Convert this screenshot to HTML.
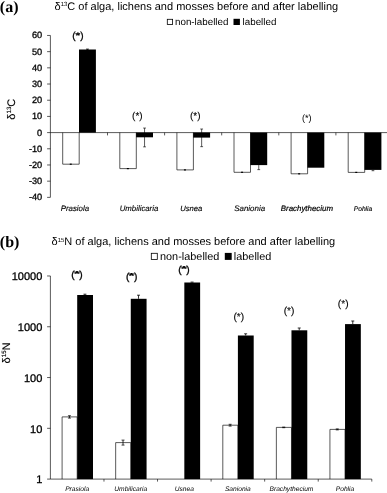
<!DOCTYPE html><html><head><meta charset="utf-8"><title>Figure</title><style>html,body{margin:0;padding:0;background:#fff}svg{display:block}text{text-rendering:geometricPrecision;font-family:"Liberation Sans",Arial,sans-serif;fill:#000}.b{stroke:#000;stroke-width:.3px}.c{stroke:#000;stroke-width:.12px}.d{stroke:#000;stroke-width:.2px}</style></head><body>
<svg width="387" height="493" viewBox="0 0 387 493">
<rect width="387" height="493" fill="#fff"/>
<text x="-0.2" y="11.7" style="font-family:'Liberation Serif',serif;font-weight:bold;font-size:16px">(a)</text>
<text x="54.5" y="9.7" font-size="11px">δ<tspan font-size="6px" dy="-3.4">13</tspan><tspan dy="3.4">C of alga, lichens and mosses before and after labelling</tspan></text>
<rect x="167.3" y="19.3" width="5.3" height="5.3" fill="#fff" stroke="#000" stroke-width="0.8"/>
<text x="175" y="24.8" font-size="9.8px">non-labelled</text>
<rect x="233.5" y="18.8" width="6.4" height="6.2" fill="#000"/>
<text x="242.6" y="24.8" font-size="9.8px">labelled</text>
<line x1="50.4" y1="35.459999999999994" x2="50.4" y2="197.36" stroke="#000" stroke-width="0.65"/>
<line x1="47.1" y1="197.36" x2="50.4" y2="197.36" stroke="#000" stroke-width="0.65"/>
<text x="42.2" y="200.26" font-size="9.2px" text-anchor="end" class="b">-40</text>
<line x1="47.1" y1="181.17" x2="50.4" y2="181.17" stroke="#000" stroke-width="0.65"/>
<text x="42.2" y="184.07" font-size="9.2px" text-anchor="end" class="b">-30</text>
<line x1="47.1" y1="164.98" x2="50.4" y2="164.98" stroke="#000" stroke-width="0.65"/>
<text x="42.2" y="167.88" font-size="9.2px" text-anchor="end" class="b">-20</text>
<line x1="47.1" y1="148.79" x2="50.4" y2="148.79" stroke="#000" stroke-width="0.65"/>
<text x="42.2" y="151.69" font-size="9.2px" text-anchor="end" class="b">-10</text>
<line x1="47.1" y1="132.60" x2="50.4" y2="132.60" stroke="#000" stroke-width="0.65"/>
<text x="42.2" y="135.50" font-size="9.2px" text-anchor="end" class="b">0</text>
<line x1="47.1" y1="116.41" x2="50.4" y2="116.41" stroke="#000" stroke-width="0.65"/>
<text x="42.2" y="119.31" font-size="9.2px" text-anchor="end" class="b">10</text>
<line x1="47.1" y1="100.22" x2="50.4" y2="100.22" stroke="#000" stroke-width="0.65"/>
<text x="42.2" y="103.12" font-size="9.2px" text-anchor="end" class="b">20</text>
<line x1="47.1" y1="84.03" x2="50.4" y2="84.03" stroke="#000" stroke-width="0.65"/>
<text x="42.2" y="86.93" font-size="9.2px" text-anchor="end" class="b">30</text>
<line x1="47.1" y1="67.84" x2="50.4" y2="67.84" stroke="#000" stroke-width="0.65"/>
<text x="42.2" y="70.74" font-size="9.2px" text-anchor="end" class="b">40</text>
<line x1="47.1" y1="51.65" x2="50.4" y2="51.65" stroke="#000" stroke-width="0.65"/>
<text x="42.2" y="54.55" font-size="9.2px" text-anchor="end" class="b">50</text>
<line x1="47.1" y1="35.46" x2="50.4" y2="35.46" stroke="#000" stroke-width="0.65"/>
<text x="42.2" y="38.36" font-size="9.2px" text-anchor="end" class="b">60</text>
<text transform="translate(14.8,109.2) rotate(-90)" font-size="11px" text-anchor="middle" class="c">δ<tspan font-size="6.2px" dy="-3.4">13</tspan><tspan dy="3.4">C</tspan></text>
<line x1="50.4" y1="132.6" x2="387" y2="132.6" stroke="#000" stroke-width="0.65"/>
<line x1="107.50" y1="132.6" x2="107.50" y2="135.4" stroke="#000" stroke-width="0.65"/>
<line x1="164.60" y1="132.6" x2="164.60" y2="135.4" stroke="#000" stroke-width="0.65"/>
<line x1="221.70" y1="132.6" x2="221.70" y2="135.4" stroke="#000" stroke-width="0.65"/>
<line x1="278.80" y1="132.6" x2="278.80" y2="135.4" stroke="#000" stroke-width="0.65"/>
<line x1="335.90" y1="132.6" x2="335.90" y2="135.4" stroke="#000" stroke-width="0.65"/>
<path d="M62.70 132.6 V164.20 H79.20 V132.6" fill="none" stroke="#000" stroke-width="0.65"/>
<rect x="69.75" y="163.60" width="2" height="1.2" fill="#000"/>
<rect x="79.00" y="49.50" width="16.9" height="83.10" fill="#000"/>
<line x1="87.45" y1="49.01" x2="87.45" y2="49.99" stroke="#000" stroke-width="0.65"/>
<line x1="86.05" y1="49.01" x2="88.85" y2="49.01" stroke="#000" stroke-width="0.65"/>
<line x1="86.05" y1="49.99" x2="88.85" y2="49.99" stroke="#000" stroke-width="0.65"/>
<text x="74.9" y="211.4" font-size="7.9px" font-style="italic" text-anchor="middle" class="c">Prasiola</text>
<path d="M119.80 132.6 V168.60 H136.30 V132.6" fill="none" stroke="#000" stroke-width="0.65"/>
<rect x="126.85" y="168.00" width="2" height="1.2" fill="#000"/>
<rect x="136.10" y="132.60" width="16.9" height="4.70" fill="#000"/>
<line x1="144.55" y1="128.07" x2="144.55" y2="146.85" stroke="#000" stroke-width="0.65"/>
<line x1="143.15" y1="128.07" x2="145.95" y2="128.07" stroke="#000" stroke-width="0.65"/>
<line x1="143.15" y1="146.85" x2="145.95" y2="146.85" stroke="#000" stroke-width="0.65"/>
<text x="139" y="211.4" font-size="7.8px" font-style="italic" text-anchor="middle" class="c">Umbilicaria</text>
<path d="M176.90 132.6 V169.90 H193.40 V132.6" fill="none" stroke="#000" stroke-width="0.65"/>
<rect x="183.95" y="169.30" width="2" height="1.2" fill="#000"/>
<rect x="193.20" y="132.60" width="16.9" height="5.00" fill="#000"/>
<line x1="201.65" y1="129.02" x2="201.65" y2="146.67" stroke="#000" stroke-width="0.65"/>
<line x1="200.25" y1="129.02" x2="203.05" y2="129.02" stroke="#000" stroke-width="0.65"/>
<line x1="200.25" y1="146.67" x2="203.05" y2="146.67" stroke="#000" stroke-width="0.65"/>
<text x="191.3" y="211.4" font-size="7.7px" font-style="italic" text-anchor="middle" class="c">Usnea</text>
<path d="M234.00 132.6 V172.30 H250.50 V132.6" fill="none" stroke="#000" stroke-width="0.65"/>
<rect x="241.05" y="171.70" width="2" height="1.2" fill="#000"/>
<rect x="250.30" y="132.60" width="16.9" height="32.50" fill="#000"/>
<line x1="258.75" y1="165.10" x2="258.75" y2="169.63" stroke="#000" stroke-width="0.65"/>
<line x1="257.35" y1="169.63" x2="260.15" y2="169.63" stroke="#000" stroke-width="0.65"/>
<text x="249.7" y="211.4" font-size="7.95px" font-style="italic" text-anchor="middle" class="c">Sanionia</text>
<path d="M291.10 132.6 V173.80 H307.60 V132.6" fill="none" stroke="#000" stroke-width="0.65"/>
<rect x="298.15" y="173.20" width="2" height="1.2" fill="#000"/>
<rect x="307.40" y="132.60" width="16.9" height="35.10" fill="#000"/>
<text x="306.9" y="211.4" font-size="7.9px" font-style="italic" text-anchor="middle" class="d">Brachythecium</text>
<path d="M348.20 132.6 V172.40 H364.70 V132.6" fill="none" stroke="#000" stroke-width="0.65"/>
<rect x="355.25" y="171.80" width="2" height="1.2" fill="#000"/>
<rect x="364.50" y="132.60" width="16.9" height="37.30" fill="#000"/>
<line x1="372.95" y1="169.90" x2="372.95" y2="170.71" stroke="#000" stroke-width="0.65"/>
<line x1="371.55" y1="170.71" x2="374.35" y2="170.71" stroke="#000" stroke-width="0.65"/>
<text x="363" y="211.4" font-size="6.7px" font-style="italic" text-anchor="middle" class="c">Pohlia</text>
<text x="75.65" y="39.4" font-size="10px" text-anchor="end" class="b">(</text><text x="80.15" y="39.4" font-size="10px" class="b">)</text><text transform="translate(77.9,38.22) scale(1.2,0.8)" font-size="10px" font-weight="bold" text-anchor="middle" class="b">*</text>
<text x="137.4" y="119.2" font-size="10px" text-anchor="middle" class="c">(*)</text>
<text x="195.2" y="119.2" font-size="10px" text-anchor="middle" class="c">(*)</text>
<text x="306.8" y="121.4" font-size="9.2px" text-anchor="middle" class="n">(*)</text>
<text x="-0.2" y="247" style="font-family:'Liberation Serif',serif;font-weight:bold;font-size:16px">(b)</text>
<text x="51.5" y="245.2" font-size="11px">δ<tspan font-size="6px" dy="-3.4">15</tspan><tspan dy="3.4">N of alga, lichens and mosses before and after labelling</tspan></text>
<rect x="151.3" y="253.3" width="6" height="6.2" fill="#fff" stroke="#000" stroke-width="0.8"/>
<text x="160" y="259.7" font-size="10.9px">non-labelled</text>
<rect x="224.8" y="252.9" width="6.9" height="7" fill="#000"/>
<text x="233.8" y="259.7" font-size="10.9px">labelled</text>
<line x1="50.4" y1="275.98" x2="50.4" y2="479.1" stroke="#000" stroke-width="0.65"/>
<line x1="47.1" y1="479.10" x2="50.4" y2="479.10" stroke="#000" stroke-width="0.65"/>
<text x="42.3" y="483.40" font-size="11px" text-anchor="end" class="b">1</text>
<line x1="47.1" y1="428.32" x2="50.4" y2="428.32" stroke="#000" stroke-width="0.65"/>
<text x="42.3" y="432.62" font-size="11px" text-anchor="end" class="b">10</text>
<line x1="47.1" y1="377.54" x2="50.4" y2="377.54" stroke="#000" stroke-width="0.65"/>
<text x="42.3" y="381.84" font-size="11px" text-anchor="end" class="b">100</text>
<line x1="47.1" y1="326.76" x2="50.4" y2="326.76" stroke="#000" stroke-width="0.65"/>
<text x="42.3" y="331.06" font-size="11px" text-anchor="end" class="b">1000</text>
<line x1="47.1" y1="275.98" x2="50.4" y2="275.98" stroke="#000" stroke-width="0.65"/>
<text x="42.3" y="280.28" font-size="11px" text-anchor="end" class="b">10000</text>
<text transform="translate(9.8,352.9) rotate(-90)" font-size="11px" text-anchor="middle" class="c">δ<tspan font-size="6.2px" dy="-3.4">15</tspan><tspan dy="3.4">N</tspan></text>
<line x1="50.4" y1="479.1" x2="371.8" y2="479.1" stroke="#000" stroke-width="0.65"/>
<line x1="103.97" y1="479.1" x2="103.97" y2="481.6" stroke="#000" stroke-width="0.65"/>
<line x1="157.53" y1="479.1" x2="157.53" y2="481.6" stroke="#000" stroke-width="0.65"/>
<line x1="211.10" y1="479.1" x2="211.10" y2="481.6" stroke="#000" stroke-width="0.65"/>
<line x1="264.67" y1="479.1" x2="264.67" y2="481.6" stroke="#000" stroke-width="0.65"/>
<line x1="318.23" y1="479.1" x2="318.23" y2="481.6" stroke="#000" stroke-width="0.65"/>
<line x1="371.80" y1="479.1" x2="371.80" y2="481.6" stroke="#000" stroke-width="0.65"/>
<path d="M62.10 479.1 V416.9 H77.20 V479.1" fill="none" stroke="#000" stroke-width="0.65"/>
<line x1="69.45" y1="415.70" x2="69.45" y2="418.10" stroke="#000" stroke-width="0.8"/>
<line x1="67.95" y1="415.70" x2="70.95" y2="415.70" stroke="#000" stroke-width="0.7"/>
<line x1="67.95" y1="418.10" x2="70.95" y2="418.10" stroke="#000" stroke-width="0.7"/>
<rect x="77.20" y="295" width="15.8" height="184.10" fill="#000"/>
<line x1="84.95" y1="294.20" x2="84.95" y2="295.00" stroke="#000" stroke-width="0.8"/>
<line x1="83.45" y1="294.20" x2="86.45" y2="294.20" stroke="#000" stroke-width="0.8"/>
<text x="77.18" y="491" font-size="6.65px" font-style="italic" text-anchor="middle">Prasiola</text>
<path d="M115.67 479.1 V442.6 H130.77 V479.1" fill="none" stroke="#000" stroke-width="0.65"/>
<line x1="123.02" y1="440.10" x2="123.02" y2="445.10" stroke="#000" stroke-width="0.8"/>
<line x1="121.52" y1="440.10" x2="124.52" y2="440.10" stroke="#000" stroke-width="0.7"/>
<line x1="121.52" y1="445.10" x2="124.52" y2="445.10" stroke="#000" stroke-width="0.7"/>
<rect x="130.77" y="298.8" width="15.8" height="180.30" fill="#000"/>
<line x1="138.52" y1="295.20" x2="138.52" y2="298.80" stroke="#000" stroke-width="0.8"/>
<line x1="137.02" y1="295.20" x2="140.02" y2="295.20" stroke="#000" stroke-width="0.8"/>
<text x="130.75" y="491" font-size="6.65px" font-style="italic" text-anchor="middle">Umbilicaria</text>
<rect x="184.33" y="282.5" width="15.8" height="196.60" fill="#000"/>
<line x1="192.08" y1="282.10" x2="192.08" y2="282.50" stroke="#000" stroke-width="0.8"/>
<line x1="190.58" y1="282.10" x2="193.58" y2="282.10" stroke="#000" stroke-width="0.8"/>
<text x="184.32" y="491" font-size="6.65px" font-style="italic" text-anchor="middle">Usnea</text>
<path d="M222.80 479.1 V425.2 H237.90 V479.1" fill="none" stroke="#000" stroke-width="0.65"/>
<line x1="230.15" y1="424.30" x2="230.15" y2="426.10" stroke="#000" stroke-width="0.8"/>
<line x1="228.65" y1="424.30" x2="231.65" y2="424.30" stroke="#000" stroke-width="0.7"/>
<line x1="228.65" y1="426.10" x2="231.65" y2="426.10" stroke="#000" stroke-width="0.7"/>
<rect x="237.90" y="335.5" width="15.8" height="143.60" fill="#000"/>
<line x1="245.65" y1="333.80" x2="245.65" y2="335.50" stroke="#000" stroke-width="0.8"/>
<line x1="244.15" y1="333.80" x2="247.15" y2="333.80" stroke="#000" stroke-width="0.8"/>
<text x="237.88" y="491" font-size="6.65px" font-style="italic" text-anchor="middle">Sanionia</text>
<path d="M276.37 479.1 V427.4 H291.47 V479.1" fill="none" stroke="#000" stroke-width="0.65"/>
<line x1="283.72" y1="427.10" x2="283.72" y2="427.70" stroke="#000" stroke-width="0.8"/>
<line x1="282.22" y1="427.10" x2="285.22" y2="427.10" stroke="#000" stroke-width="0.7"/>
<line x1="282.22" y1="427.70" x2="285.22" y2="427.70" stroke="#000" stroke-width="0.7"/>
<rect x="291.47" y="330.3" width="15.8" height="148.80" fill="#000"/>
<line x1="299.22" y1="328.00" x2="299.22" y2="330.30" stroke="#000" stroke-width="0.8"/>
<line x1="297.72" y1="328.00" x2="300.72" y2="328.00" stroke="#000" stroke-width="0.8"/>
<text x="291.45" y="491" font-size="6.65px" font-style="italic" text-anchor="middle">Brachythecium</text>
<path d="M329.93 479.1 V429.4 H345.03 V479.1" fill="none" stroke="#000" stroke-width="0.65"/>
<line x1="337.28" y1="428.90" x2="337.28" y2="429.90" stroke="#000" stroke-width="0.8"/>
<line x1="335.78" y1="428.90" x2="338.78" y2="428.90" stroke="#000" stroke-width="0.7"/>
<line x1="335.78" y1="429.90" x2="338.78" y2="429.90" stroke="#000" stroke-width="0.7"/>
<rect x="345.03" y="324.1" width="15.8" height="155.00" fill="#000"/>
<line x1="352.78" y1="321.00" x2="352.78" y2="324.10" stroke="#000" stroke-width="0.8"/>
<line x1="351.28" y1="321.00" x2="354.28" y2="321.00" stroke="#000" stroke-width="0.8"/>
<text x="345.02" y="491" font-size="6.65px" font-style="italic" text-anchor="middle">Pohlia</text>
<text x="74.70" y="278.0" font-size="10.2px" text-anchor="end" class="b">(</text><text x="79.30" y="278.0" font-size="10.2px" class="b">)</text><text transform="translate(77,275.80) scale(1.5,0.7)" font-size="10.2px" font-weight="bold" text-anchor="middle" class="b">*</text>
<text x="129.30" y="279.7" font-size="10.2px" text-anchor="end" class="b">(</text><text x="133.90" y="279.7" font-size="10.2px" class="b">)</text><text transform="translate(131.6,277.50) scale(1.5,0.7)" font-size="10.2px" font-weight="bold" text-anchor="middle" class="b">*</text>
<text x="181.70" y="272.7" font-size="10.2px" text-anchor="end" class="b">(</text><text x="186.30" y="272.7" font-size="10.2px" class="b">)</text><text transform="translate(184,270.50) scale(1.5,0.7)" font-size="10.2px" font-weight="bold" text-anchor="middle" class="b">*</text>
<text x="238.8" y="319.6" font-size="10.2px" text-anchor="middle" class="c">(*)</text>
<text x="289" y="314.1" font-size="10.2px" text-anchor="middle" class="c">(*)</text>
<text x="343.2" y="307.4" font-size="10.2px" text-anchor="middle" class="c">(*)</text>
</svg></body></html>
